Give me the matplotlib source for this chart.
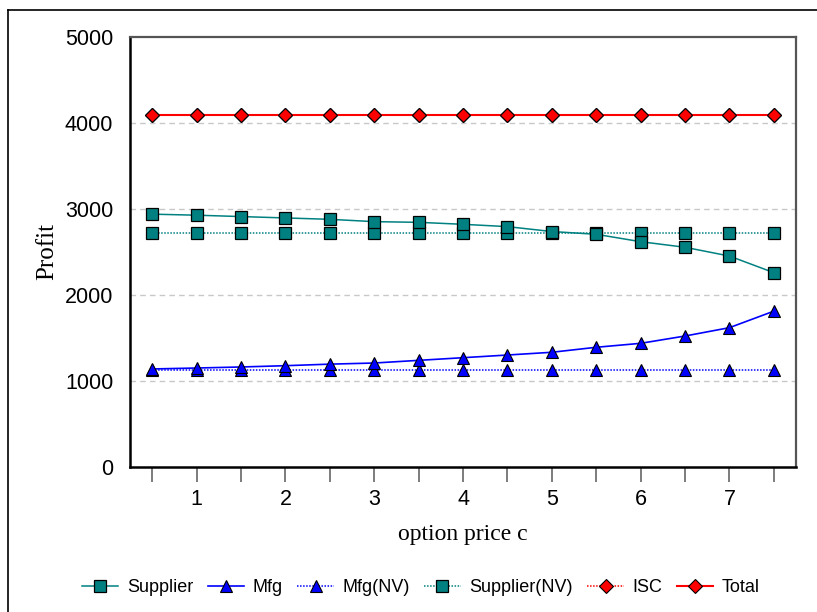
import matplotlib
matplotlib.use("Agg")
import matplotlib.pyplot as plt
from matplotlib.lines import Line2D

c_values = [0.5, 1, 1.5, 2, 2.5, 3, 3.5, 4, 4.5, 5, 5.5, 6, 6.5, 7, 7.5]
supplier = [2940, 2928, 2912, 2896, 2880, 2853, 2845, 2822, 2795, 2738, 2706, 2620, 2555, 2453, 2260]
mfg = [1140, 1151, 1163, 1178, 1196, 1209, 1240, 1271, 1302, 1334, 1392, 1438, 1523, 1620, 1812]
mfg_nv = [1126] * 15
supplier_nv = [2723] * 15
isc = [4094] * 15
total = [4094] * 15
x_tick_labels = ["1", "2", "3", "4", "5", "6", "7"]
y_ticks = [0, 1000, 2000, 3000, 4000, 5000]

plt.rcParams['font.family'] = ['Liberation Sans', 'DejaVu Sans']

fig = plt.figure(figsize=(8.17, 6.12), dpi=100)
ax = fig.add_axes([130/817, 1-467/612, 666/817, 430/612])

teal = '#008080'
blue = '#0000ff'
red = '#ff0000'

ax.plot(c_values, supplier, color=teal, lw=1.1, marker='s', ms=9, mfc=teal, mec='black', mew=0.9, label='Supplier', zorder=4)
ax.plot(c_values, mfg, color=blue, lw=1.2, marker='^', ms=9, mfc=blue, mec='black', mew=0.8, label='Mfg', zorder=4)
ax.plot(c_values, mfg_nv, color=blue, lw=1.1, ls=(0, (1, 1)), marker='^', ms=9, mfc=blue, mec='black', mew=0.8, label='Mfg(NV)', zorder=3)
ax.plot(c_values, supplier_nv, color=teal, lw=1.1, ls=(0, (1, 1)), marker='s', ms=9, mfc=teal, mec='black', mew=0.9, label='Supplier(NV)', zorder=3)
ax.plot(c_values, isc, color=red, lw=1.1, ls=(0, (1, 1)), marker='D', ms=7, mfc=red, mec='black', mew=0.8, label='ISC', zorder=3)
ax.plot(c_values, total, color=red, lw=1.5, marker='D', ms=7, mfc=red, mec='black', mew=0.8, label='Total', zorder=4)

ax.set_xlim(0.25, 7.75)
ax.set_ylim(0, 5000)
ax.set_yticks(y_ticks)
ax.set_yticklabels([str(v) for v in y_ticks], fontsize=15.5)
ax.set_xticks(c_values)
ax.set_xticklabels([x_tick_labels[int(v) - 1] if float(v).is_integer() else '' for v in c_values], fontsize=15.5)
ax.tick_params(axis='y', length=0, pad=12)
ax.tick_params(axis='x', direction='out', length=11, width=1.2, color='#666666', pad=5)

for v in [1000, 2000, 3000, 4000]:
    ax.axhline(v, color='#c8c8c8', lw=1.0, ls=(0, (4, 3)), zorder=1)

for s in ['left', 'bottom']:
    ax.spines[s].set_color('black')
    ax.spines[s].set_linewidth(1.8)
for s in ['top', 'right']:
    ax.spines[s].set_color('#555555')
    ax.spines[s].set_linewidth(1.6)

ax.set_ylabel('Profit', family=['Liberation Serif', 'DejaVu Serif'], fontsize=18, labelpad=5)
ax.set_xlabel('option price c', family=['Liberation Serif', 'DejaVu Serif'], fontsize=17, labelpad=10)

handles, labels = ax.get_legend_handles_labels()
fig.legend(handles, labels, loc='center', bbox_to_anchor=(421/817, 1-588/612), ncol=6,
           frameon=False, fontsize=13, handlelength=2.0, columnspacing=0.8, handletextpad=0.5, borderaxespad=0)

# outer frame lines (left and top)
fig.add_artist(Line2D([8/817, 8/817], [0, 1-10/612], color='black', lw=1.2, transform=fig.transFigure))
fig.add_artist(Line2D([8/817, 1], [1-10/612, 1-10/612], color='black', lw=1.2, transform=fig.transFigure))

fig.savefig('out.png', dpi=100)
